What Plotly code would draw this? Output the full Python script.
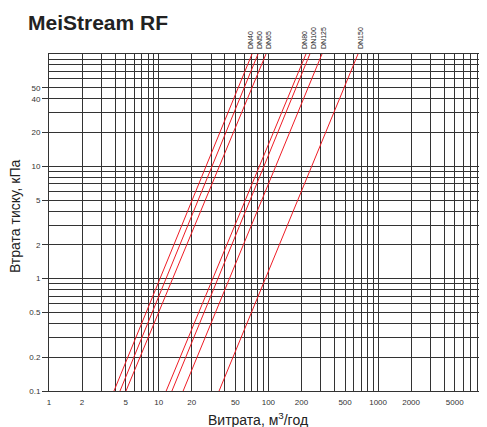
import math
import plotly.graph_objects as go

# --- data ---
dn_labels = ["DN40", "DN50", "DN65", "DN80", "DN100", "DN125", "DN150"]
q_at_low = [3.91, 4.44, 5.03, 11.7, 13.2, 16.7, 35.5]      # m3/h at 0.1 kPa
q_at_high = [70.9, 80.4, 95.1, 220.0, 239.0, 308.0, 656.0]  # m3/h at 100 kPa
dp_ends = [0.1, 100.0]                                      # kPa

y_tick_vals = [0.1, 0.2, 0.5, 1, 2, 5, 10, 20, 40, 50]
y_tick_text = ["0.1", "0.2", "0.5", "1", "2", "5", "10", "20", "40", "50"]
x_tick_vals = [1, 2, 5, 10, 20, 50, 100, 200, 500, 1000, 2000, 5000]
x_tick_text = ["1", "2", "5", "10", "20", "50", "100", "200", "500", "1000", "2000", "5000"]

title_text = "MeiStream RF"
x_title = "Витрата, м<sup>3</sup>/год"
y_title = "Втрата тиску, кПа"

# --- styles ---
OFF = 8                      # page body margin
W, H = 487 - OFF, 427 - OFF
ML, MR, MT, MB = 49 - OFF, 0, 54 - OFF, 36
FONT = "Liberation Sans, Arial, sans-serif"
GRID = "#333333"
RED = "#ee1c25"
label_xshift = [-2, 1, 2, -2, 3, 1, 2]

fig = go.Figure()
for name, q0, q1 in zip(dn_labels, q_at_low, q_at_high):
    fig.add_trace(go.Scatter(
        x=[q0, q1], y=dp_ends, mode="lines", name=name,
        line=dict(color=RED, width=1), showlegend=False, hoverinfo="skip",
    ))

annotations = []
for name, q1, xs in zip(dn_labels, q_at_high, label_xshift):
    annotations.append(dict(
        x=math.log10(q1), xref="x", y=1, yref="paper", yshift=4, xshift=xs,
        text=name, showarrow=False, textangle=-90, borderpad=0,
        xanchor="center", yanchor="bottom",
        font=dict(family=FONT, size=7, color="#222"),
    ))

pw = W - ML - MR
ph = H - MT - MB
# screen pixel -> paper coords
def px_x(sx):
    return (sx - OFF - ML) / pw

def px_y(sy):
    return (MT + ph - (sy - OFF)) / ph

annotations.append(dict(
    x=px_x(258), xref="paper", y=px_y(419), yref="paper",
    text=x_title, showarrow=False, xanchor="center", yanchor="middle", borderpad=0,
    font=dict(family=FONT, size=14, color="#222"),
))
annotations.append(dict(
    x=px_x(15), xref="paper", y=px_y(216), yref="paper",
    text=y_title, showarrow=False, textangle=-90, borderpad=0,
    xanchor="center", yanchor="middle",
    font=dict(family=FONT, size=14, color="#222"),
))

fig.update_layout(
    width=W, height=H,
    margin=dict(l=ML, r=MR, t=MT, b=MB, pad=0),
    paper_bgcolor="white", plot_bgcolor="white",
    title=dict(text="<b>" + title_text + "</b>", x=(28 - OFF) / W, xanchor="left",
               xref="container", y=1 - (23 - OFF) / H, yanchor="middle", yref="container",
               font=dict(family=FONT, size=21, color="#222")),
    annotations=annotations,
    xaxis=dict(
        type="log", range=[0, 3.993],
        tickmode="array", tickvals=x_tick_vals, ticktext=x_tick_text,
        ticks="", ticklabelstandoff=3,
        tickfont=dict(family=FONT, size=8, color="#333"),
        showgrid=True, gridcolor=GRID, gridwidth=1,
        minor=dict(dtick="D1", showgrid=True, gridcolor=GRID, gridwidth=1, ticks=""),
        showline=True, linecolor=GRID, linewidth=1, mirror=True,
        zeroline=False, fixedrange=True,
    ),
    yaxis=dict(
        type="log", range=[-1, 2],
        tickmode="array", tickvals=y_tick_vals, ticktext=y_tick_text,
        ticks="outside", ticklen=6, tickcolor=GRID, tickwidth=1,
        tickfont=dict(family=FONT, size=8, color="#333"),
        showgrid=True, gridcolor=GRID, gridwidth=1,
        minor=dict(dtick="D1", showgrid=True, gridcolor=GRID, gridwidth=1, ticks=""),
        showline=True, linecolor=GRID, linewidth=1, mirror=True,
        zeroline=False, fixedrange=True,
    ),
)

fig.write_html("out.html")
